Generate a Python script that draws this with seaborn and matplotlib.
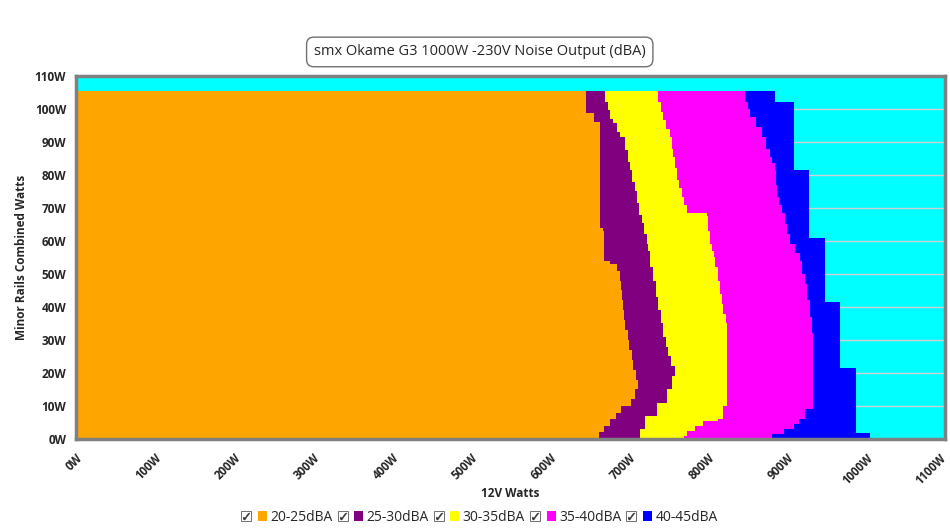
import numpy as np
import seaborn as sns
import matplotlib.pyplot as plt
import matplotlib.transforms as mtransforms
from matplotlib.lines import Line2D
from matplotlib.patches import Patch
from matplotlib.legend_handler import HandlerTuple

# band labels / colours
bands = ["20-25dBA", "25-30dBA", "30-35dBA", "35-40dBA", "40-45dBA"]
band_colors = ["#FFA500", "#800080", "#FFFF00", "#FF00FF", "#0000FF"]
bg_color = "#00FFFF"

# right edge of each band (12V watts) vs minor rail watts
edge1_y = [0, 2, 4, 6, 8, 10, 12, 15, 18, 21, 24, 27, 30, 33, 36, 39, 42, 45, 48, 51, 53, 54,
           63, 64, 94, 96, 98.8, 105.5]
edge1_x = [662, 668, 676, 683, 690, 702, 708, 711, 709, 705, 703, 700, 698, 695, 693, 692, 691, 690, 689, 684, 676, 668,
           667, 663, 663, 655, 645, 645]

edge2_y = [0, 3, 7, 11, 15, 19, 22, 25, 28, 31, 35, 39, 43, 48, 52, 55, 57, 59, 62, 65.5, 68, 71.5, 75, 78, 81.5,
           84, 87.6, 91.5, 93, 95.7, 97, 99.7, 102, 105.5]
edge2_x = [714, 720, 735, 748, 754, 758, 753, 749, 746, 743, 740, 737, 734, 730, 727, 726, 724, 722, 719, 716, 713, 710, 707, 704, 701,
           698, 695, 689, 684, 680, 676, 673, 669, 669]

edge3_y = [0, 1, 2.5, 4, 5.5, 6, 10, 32, 35, 38, 41, 44, 48, 52, 55, 57, 59, 63, 67.5, 68.5, 69.4, 71, 73.3, 76, 78.5, 82,
           85.5, 88, 91.5, 94, 96.7, 99, 102, 105.5]
edge3_x = [769, 773, 783, 794, 812, 819, 824, 824, 822, 819, 817, 815, 813, 809, 807, 805, 802, 800, 798, 773, 773, 770, 767, 763, 760, 758,
           756, 754, 752, 747, 743, 740, 737, 735]

edge4_y = [0, 1.5, 3, 4.5, 6, 9, 27, 32, 37, 42, 47, 50, 54, 56.5, 59, 62, 65, 68.5, 71, 73.3, 77, 81.5, 83.5,
           85.5, 88, 91.5, 94.5, 97.6, 100, 102, 105.5]
edge4_x = [881, 896, 908, 915, 922, 933, 933, 931, 929, 925, 922, 919, 916, 910, 904, 900, 897, 893, 890, 887, 886, 885, 881,
           878, 873, 868, 860, 853, 850, 847, 844]

edge5_y = [0, 1.5, 1.8, 21, 21.5, 41, 41.5, 60.5, 61, 81, 81.5, 101.5, 102, 105.5]
edge5_x = [1005, 1005, 987, 987, 967, 967, 948, 948, 928, 928, 908, 908, 885, 885]

edges_y = [edge1_y, edge2_y, edge3_y, edge4_y, edge5_y]
edges_x = [edge1_x, edge2_x, edge3_x, edge4_x, edge5_x]

xticks = list(range(0, 1101, 100))
yticks = list(range(0, 111, 10))

sns.set_style("white")
plt.rcParams["font.family"] = ["Open Sans", "DejaVu Sans"]

fig = plt.figure(figsize=(9.5, 5.3), dpi=100)
ax = fig.add_axes([0.08, 0.1717, 0.915, 0.685])
ax.set_facecolor(bg_color)

# widest band first, narrower ones on top; stepped edges like the original
for ys, xs, c in reversed(list(zip(edges_y, edges_x, band_colors))):
    ax.fill_betweenx(ys, 0, xs, color=c, linewidth=0, zorder=2, step="post")

ax.set_xlim(0, 1100)
ax.set_ylim(0, 110)
ax.set_xticks(xticks)
ax.set_xticklabels([f"{t}W" for t in xticks], rotation=45, ha="right",
                   rotation_mode="anchor", fontsize=8.3, fontweight="bold")
ax.set_yticks(yticks)
ax.set_yticklabels([f"{t}W" for t in yticks], fontsize=8.5, fontweight="bold")
ax.tick_params(axis="both", direction="out", length=5, width=1, color="#404040", pad=2)
ax.tick_params(axis="x", pad=4)
# pull the right-most label in a touch so it stays inside the figure
last = ax.get_xticklabels()[-1]
last.set_transform(last.get_transform() + mtransforms.ScaledTranslation(-4 / 72, 0, fig.dpi_scale_trans))
ax.yaxis.grid(True, color="#D0D0D0", linewidth=1)
ax.xaxis.grid(False)
ax.set_axisbelow(True)
for s in ax.spines.values():
    s.set_color("#808080")
    s.set_linewidth(2.5)

ax.set_xlabel("12V Watts", fontsize=8.5, fontweight="bold", labelpad=0)
ax.set_ylabel("Minor Rails Combined Watts", fontsize=8.5, fontweight="bold", labelpad=5)

fig.text(0.505, 0.902, "smx Okame G3 1000W -230V Noise Output (dBA)", ha="center", va="center",
         fontsize=10.5,
         bbox=dict(boxstyle="round,pad=0.5,rounding_size=0.5", fc="white", ec="#707070", lw=1))

# legend: check box + colour square
handles = []
for c in band_colors:
    box = Line2D([], [], marker="s", markersize=7, markerfacecolor="white",
                 markeredgecolor="#707070", markeredgewidth=0.7, linestyle="none")
    tick = Line2D([], [], marker="$\\checkmark$", markersize=5, color="#303030",
                  markeredgewidth=0.3, linestyle="none")
    sq = Patch(facecolor=c, edgecolor="none")
    handles.append(((box, tick), sq))
hmap = {h: HandlerTuple(ndivide=None, pad=0.5) for h in handles}
fig.legend(handles, bands, handler_map=hmap, loc="lower center", bbox_to_anchor=(0.505, -0.014),
           ncol=5, frameon=False, fontsize=10, handlelength=1.8, handleheight=0.75,
           handletextpad=0.25, columnspacing=0.4)

fig.savefig("out.png", dpi=100)
